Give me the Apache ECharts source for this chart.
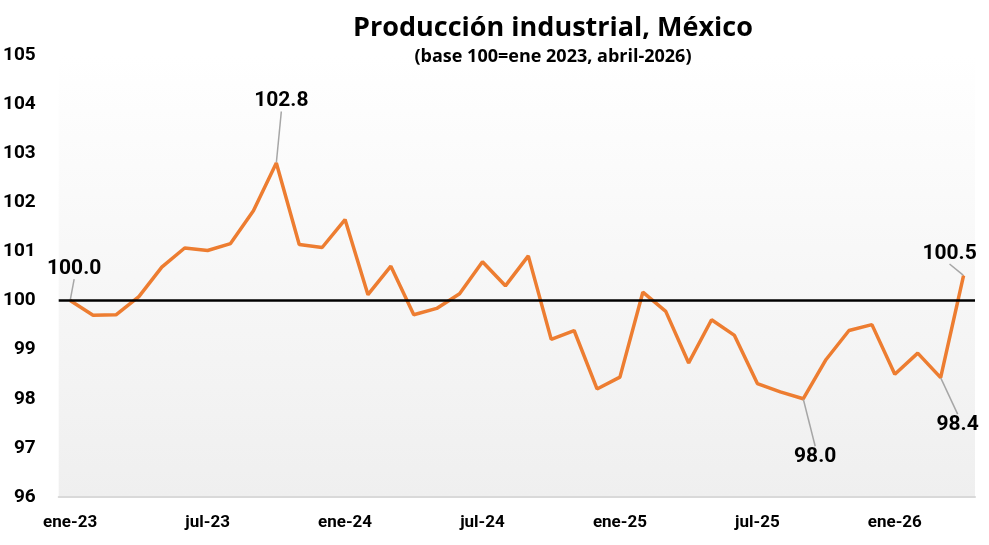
<!DOCTYPE html>
<html style="height: 100%">
   <head>
       <meta charset="utf-8">
   </head>
   <body style="height: 100%; margin: 0; background: #fff">
       <div id="container" style="width: 989px; height: 545px;"></div>
       <script type="text/javascript" src="https://cdn.jsdelivr.net/npm/echarts@6/dist/echarts.min.js"></script>
       <script type="text/javascript">
// meses ene-23 .. abr-26
var years = ['23', '24', '25', '26'];
var monthNames = ['ene', 'feb', 'mar', 'abr', 'may', 'jun', 'jul', 'ago', 'sep', 'oct', 'nov', 'dic'];
var months = [];
years.forEach(function (y) {
    monthNames.forEach(function (m) {
        if (months.length < 40) months.push(m + '-' + y);
    });
});

var produccion = [
    100.0, 99.70, 99.71, 100.08, 100.68, 101.07, 101.02, 101.16, 101.83, 102.80,
    101.14, 101.08, 101.65, 100.12, 100.70, 99.71, 99.84, 100.14, 100.79, 100.30,
    100.91, 99.21, 99.39, 98.20, 98.44, 100.17, 99.78, 98.73, 99.61, 99.29,
    98.31, 98.14, 98.00, 98.80, 99.39, 99.51, 98.50, 98.93, 98.43, 100.51
];

// puntos con etiqueta: indice -> [posicion, dx, dy]
var etiquetas = {
    0: ['top', 4, -16],
    9: ['top', 5, -46],
    32: ['bottom', 12, 42],
    38: ['bottom', 17, 31],
    39: ['top', -14, -6]
};

var fuente = 'Roboto';
var fuenteTitulo = 'Open Sans';

var dom = document.getElementById("container");
var myChart = echarts.init(dom);

var serieData = produccion.map(function (v, i) {
    var e = etiquetas[i];
    if (!e) return v;
    return {
        value: v,
        label: { show: true, position: e[0] },
        labelLine: { show: true, lineStyle: { color: '#a6a6a6', width: 1.5 } }
    };
});

var option = {
    animation: false,
    textStyle: { fontFamily: fuente },
    title: {
        text: 'Producción industrial, México',
        subtext: '(base 100=ene 2023, abril-2026)',
        left: 548,
        textAlign: 'center',
        top: 10,
        itemGap: 6,
        textStyle: { fontFamily: fuenteTitulo, fontSize: 27, fontWeight: 'bold', color: '#000' },
        subtextStyle: { fontFamily: fuenteTitulo, fontSize: 18, fontWeight: 'bold', color: '#000' }
    },
    grid: {
        left: 57,
        right: 14,
        top: 55,
        bottom: 48,
        show: true,
        borderWidth: 0,
        backgroundColor: new echarts.graphic.LinearGradient(0, 0, 0, 1, [
            { offset: 0, color: '#ffffff' },
            { offset: 1, color: '#efefef' }
        ])
    },
    xAxis: {
        type: 'category',
        data: months,
        boundaryGap: true,
        axisLine: { lineStyle: { color: '#d9d9d9', width: 2 } },
        axisTick: { show: false },
        axisLabel: {
            interval: 5,
            margin: 17,
            color: '#000',
            fontSize: 17,
            fontWeight: 'bold',
            fontFamily: fuente
        }
    },
    yAxis: {
        type: 'value',
        min: 96,
        max: 105,
        interval: 1,
        splitLine: { show: false },
        axisLine: { show: false },
        axisTick: { show: false },
        axisLabel: {
            margin: 23,
            color: '#000',
            fontSize: 19,
            fontWeight: 'bold',
            fontFamily: fuente
        }
    },
    series: [
        {
            name: 'Producción industrial',
            type: 'line',
            data: serieData,
            showSymbol: true,
            symbol: 'circle',
            symbolSize: 1,
            itemStyle: { color: '#ED7D31' },
            lineStyle: { color: '#ED7D31', width: 3.5 },
            label: {
                show: false,
                color: '#000',
                fontSize: 21,
                fontWeight: 'bold',
                fontFamily: fuente,
                formatter: function (p) { return p.value.toFixed(1); }
            },
            labelLayout: function (p) {
                var e = etiquetas[p.dataIndex];
                if (!e) return {};
                return { dx: e[1], dy: e[2] };
            },
            markLine: {
                silent: true,
                symbol: 'none',
                label: { show: false },
                lineStyle: { color: '#000', width: 2.5, type: 'solid' },
                data: [{ yAxis: 100 }]
            },
            z: 3
        }
    ]
};

myChart.setOption(option);
       </script>
   </body>
</html>
